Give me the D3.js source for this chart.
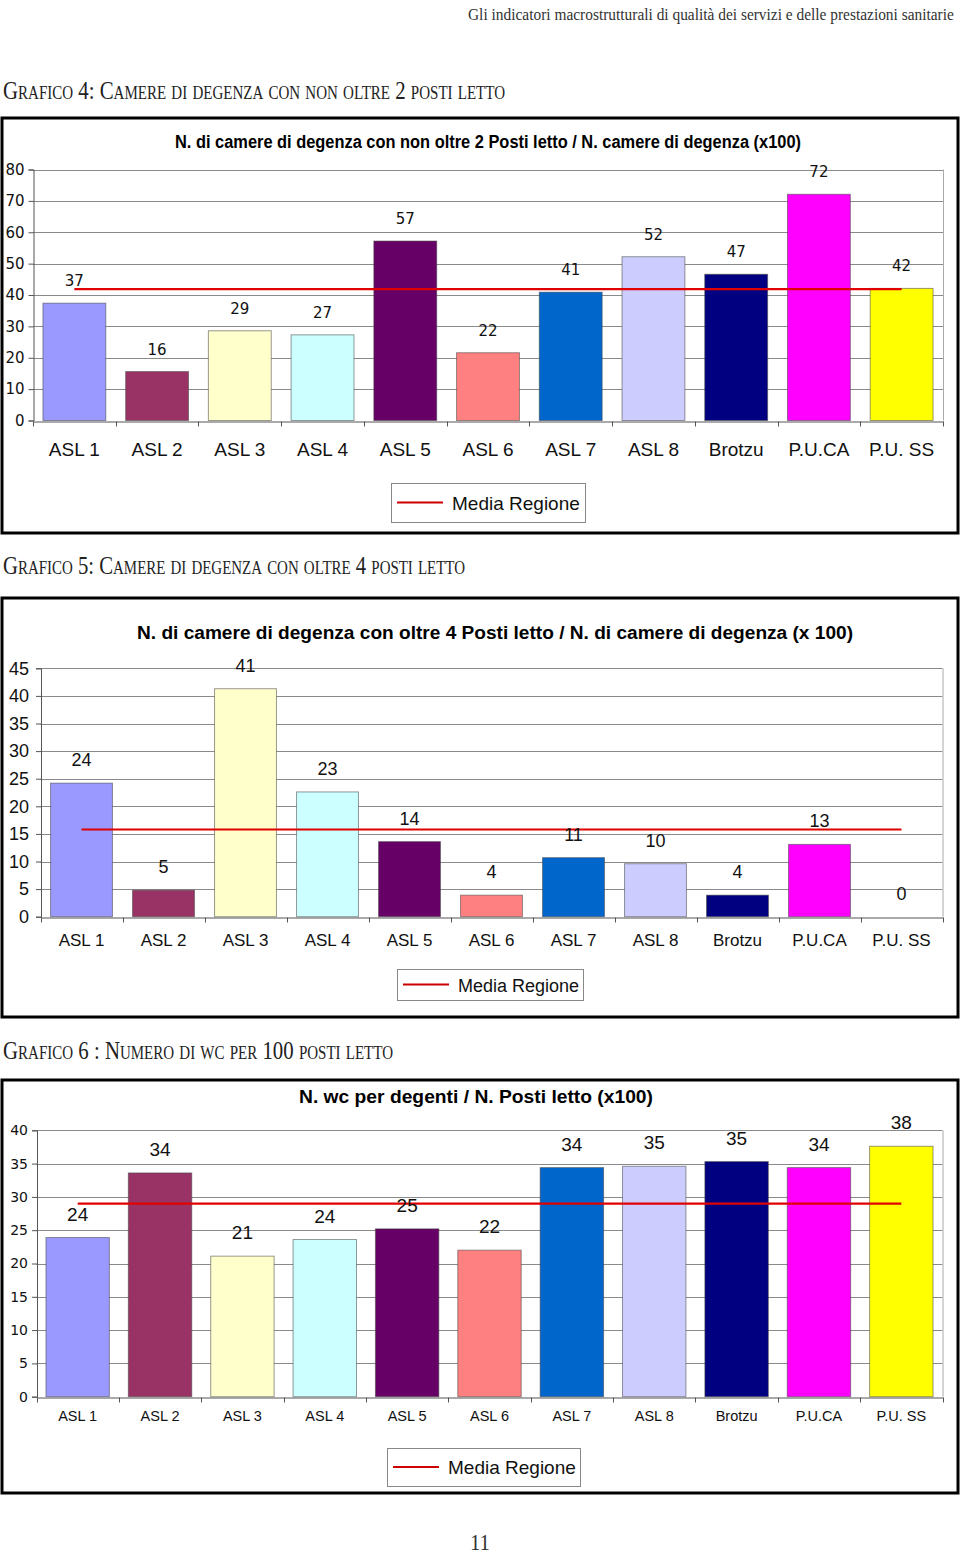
<!DOCTYPE html>
<html><head><meta charset="utf-8">
<script src="https://cdn.jsdelivr.net/npm/d3@7"></script>
<style>
html,body{margin:0;padding:0;background:#fff;}
svg{display:block;}
</style></head>
<body>
<svg id="page" width="960" height="1554"></svg>
<script>
// ---------- DATA ----------
const categories = ["ASL 1","ASL 2","ASL 3","ASL 4","ASL 5","ASL 6","ASL 7","ASL 8","Brotzu","P.U.CA","P.U. SS"];
const barColors = ["#9999FF","#993366","#FFFFCC","#CCFFFF","#660066","#FF8080","#0066CC","#CCCCFF","#000080","#FF00FF","#FFFF00"];

const valuesG4 = [37.4, 15.6, 28.6, 27.3, 57.2, 21.6, 40.9, 52.2, 46.6, 72.1, 42.1];
const meanG4 = 41.9;
const ticksG4 = [0,10,20,30,40,50,60,70,80];

const valuesG5 = [24.2, 4.8, 41.3, 22.6, 13.6, 3.9, 10.7, 9.6, 3.9, 13.1, 0];
const meanG5 = 15.8;
const ticksG5 = [0,5,10,15,20,25,30,35,40,45];

const valuesG6 = [23.9, 33.6, 21.1, 23.6, 25.2, 22.0, 34.4, 34.6, 35.3, 34.4, 37.6];
const meanG6 = 29.0;
const ticksG6 = [0,5,10,15,20,25,30,35,40];

const legendLabel = "Media Regione";
const pageHeader = "Gli indicatori macrostrutturali di qualità dei servizi e delle prestazioni sanitarie";
const headingG4 = "Grafico 4: Camere di degenza con non oltre 2 posti letto";
const headingG5 = "Grafico 5: Camere di degenza con oltre 4 posti letto";
const headingG6 = "Grafico 6 : Numero di wc per 100 posti letto";
const titleG4 = "N. di camere di degenza con non oltre 2 Posti letto / N. camere di degenza  (x100)";
const titleG5 = "N. di camere di degenza con oltre 4 Posti letto / N. di camere di degenza (x 100)";
const titleG6 = "N. wc per degenti / N. Posti letto (x100)";
const pageNumber = "11";

// ---------- DRAW ----------
const svg = d3.select("#page");
const SANS = "'Liberation Sans', Arial, sans-serif";
const VERD = "'DejaVu Sans', Verdana, sans-serif";
const SERIF = "'Liberation Serif', 'Times New Roman', serif";

// page header, squeezed horizontally with a scale transform
(function () {
  const t = svg.append("text").attr("x", 0).attr("y", 0)
    .attr("font-family", SERIF).attr("font-size", 17).attr("fill", "#333")
    .text(pageHeader);
  const sx = 486 / t.node().getBBox().width;
  t.attr("transform", `translate(468,20) scale(${sx},1)`);
})();

function heading(txt, y, len) {
  svg.append("text").attr("x", 3).attr("y", y)
    .attr("font-family", SERIF).attr("font-size", 25).attr("fill", "#222")
    .style("font-variant", "small-caps")
    .attr("textLength", len).attr("lengthAdjust", "spacingAndGlyphs")
    .text(txt);
}
heading(headingG4, 99, 502);
heading(headingG5, 574, 462);
heading(headingG6, 1059, 390);

svg.append("text").attr("x", 480).attr("y", 1550).attr("text-anchor", "middle")
  .attr("font-family", SERIF).attr("font-size", 24).attr("fill", "#333")
  .attr("textLength", 20).attr("lengthAdjust", "spacingAndGlyphs")
  .text(pageNumber);

function drawChart(cfg) {
  const g = svg.append("g");
  // outer frame
  g.append("rect").attr("x", cfg.box[0]).attr("y", cfg.box[1])
    .attr("width", cfg.box[2] - cfg.box[0]).attr("height", cfg.box[3] - cfg.box[1])
    .attr("fill", "#fff").attr("stroke", "#000").attr("stroke-width", 3);

  // title
  g.append("text").attr("x", cfg.title.x).attr("y", cfg.title.y).attr("text-anchor", "middle")
    .attr("font-family", SANS).attr("font-weight", "bold").attr("font-size", cfg.title.size)
    .attr("textLength", cfg.title.len).attr("lengthAdjust", "spacingAndGlyphs")
    .text(cfg.title.text);

  const x = d3.scaleBand().domain(categories).range([cfg.left, cfg.right])
    .paddingInner(cfg.pad).paddingOuter(cfg.pad / 2);
  const y = d3.scaleLinear().domain([0, d3.max(cfg.ticks)]).range([cfg.bottom, cfg.top]);

  // gridlines
  g.append("g").selectAll("line").data(cfg.ticks.filter(t => t > 0)).join("line")
    .attr("x1", cfg.left).attr("x2", cfg.right)
    .attr("y1", d => Math.round(y(d)) + 0.5).attr("y2", d => Math.round(y(d)) + 0.5)
    .attr("stroke", "#8a8a8a").attr("stroke-width", 1);
  // plot area right edge
  g.append("line").attr("x1", cfg.right + 0.5).attr("x2", cfg.right + 0.5)
    .attr("y1", y(d3.max(cfg.ticks))).attr("y2", cfg.bottom)
    .attr("stroke", "#aaa").attr("stroke-width", 1);

  // y axis
  const ya = g.append("g").attr("transform", `translate(${cfg.left + 0.5},0)`)
    .call(d3.axisLeft(y).tickValues(cfg.ticks).tickSize(5).tickPadding(cfg.yPad).tickFormat(d3.format("d")));
  ya.selectAll("path,line").attr("stroke", "#555");
  ya.selectAll("text").attr("font-family", cfg.yFont).attr("font-size", cfg.ySize).attr("fill", "#111");

  // x axis (domain line + category labels)
  const xa = g.append("g").attr("transform", `translate(0,${Math.round(cfg.bottom) + 0.5})`)
    .call(d3.axisBottom(x).tickSize(0).tickPadding(cfg.xPad));
  xa.select(".domain").attr("stroke", "#555");
  xa.selectAll("text").attr("font-family", SANS).attr("font-size", cfg.xSize).attr("fill", "#111");
  // boundary tick marks
  const bounds = d3.range(categories.length + 1).map(i => cfg.left + i * x.step());
  xa.append("g").selectAll("line").data(bounds).join("line")
    .attr("x1", d => Math.round(d) + 0.5).attr("x2", d => Math.round(d) + 0.5)
    .attr("y1", 0).attr("y2", 5).attr("stroke", "#555");

  // bars
  g.append("g").selectAll("rect").data(cfg.values).join("rect")
    .attr("x", (d, i) => x(categories[i]))
    .attr("y", d => y(d))
    .attr("width", x.bandwidth())
    .attr("height", d => cfg.bottom - y(d))
    .attr("fill", (d, i) => barColors[i])
    .attr("stroke", "#444").attr("stroke-opacity", 0.55).attr("stroke-width", 1);

  // mean line
  const line = d3.line();
  const c0 = x(categories[0]) + x.bandwidth() / 2;
  const c1 = x(categories[categories.length - 1]) + x.bandwidth() / 2;
  g.append("path").attr("d", line([[c0, y(cfg.mean)], [c1, y(cfg.mean)]]))
    .attr("stroke", "#e00000").attr("stroke-width", 2.2).attr("fill", "none");

  // value labels
  g.append("g").selectAll("text").data(cfg.values).join("text")
    .attr("x", (d, i) => x(categories[i]) + x.bandwidth() / 2)
    .attr("y", d => y(d) - cfg.labOff)
    .attr("text-anchor", "middle")
    .attr("font-family", cfg.labFont).attr("font-size", cfg.labSize).attr("fill", "#111")
    .text(d => d3.format(".0f")(d));

  // legend
  const L = cfg.legend;
  g.append("rect").attr("x", L.x0 + 0.5).attr("y", L.y0 + 0.5).attr("width", L.x1 - L.x0).attr("height", L.y1 - L.y0)
    .attr("fill", "#fff").attr("stroke", "#888");
  const ly = (L.y0 + L.y1) / 2;
  g.append("path").attr("d", line([[L.x0 + 6, ly], [L.x0 + 52, ly]]))
    .attr("stroke", "#cc0000").attr("stroke-width", 2);
  g.append("text").attr("x", L.x0 + 61).attr("y", ly + 7)
    .attr("font-family", SANS).attr("font-size", L.size).attr("fill", "#111").text(legendLabel);
}

drawChart({
  box: [2, 118, 958, 533],
  title: {text: titleG4, x: 488, y: 148, size: 18, len: 626},
  left: 33, right: 943, top: 169.5, bottom: 420.5, pad: 0.24,
  values: valuesG4, mean: meanG4, ticks: ticksG4,
  yFont: VERD, ySize: 15, yPad: 4,
  xSize: 19, xPad: 21,
  labFont: VERD, labSize: 15, labOff: 17,
  legend: {x0: 391, y0: 483, x1: 585, y1: 522, size: 19}
});

drawChart({
  box: [2, 598, 958, 1017],
  title: {text: titleG5, x: 495, y: 639, size: 18, len: 716},
  left: 40.5, right: 942.5, top: 668.3, bottom: 916.7, pad: 0.245,
  values: valuesG5, mean: meanG5, ticks: ticksG5,
  yFont: SANS, ySize: 18, yPad: 7,
  xSize: 17, xPad: 16,
  labFont: SANS, labSize: 18, labOff: 17,
  legend: {x0: 397, y0: 969, x1: 583, y1: 1000, size: 18}
});

drawChart({
  box: [2, 1080, 958, 1493],
  title: {text: titleG6, x: 476, y: 1103, size: 18, len: 354},
  left: 36.5, right: 942.5, top: 1130.3, bottom: 1396.7, pad: 0.23,
  values: valuesG6, mean: meanG6, ticks: ticksG6,
  yFont: VERD, ySize: 14, yPad: 4,
  xSize: 14.5, xPad: 13,
  labFont: SANS, labSize: 19, labOff: 17,
  legend: {x0: 387, y0: 1448, x1: 580, y1: 1486, size: 19}
});
</script>
</body></html>
